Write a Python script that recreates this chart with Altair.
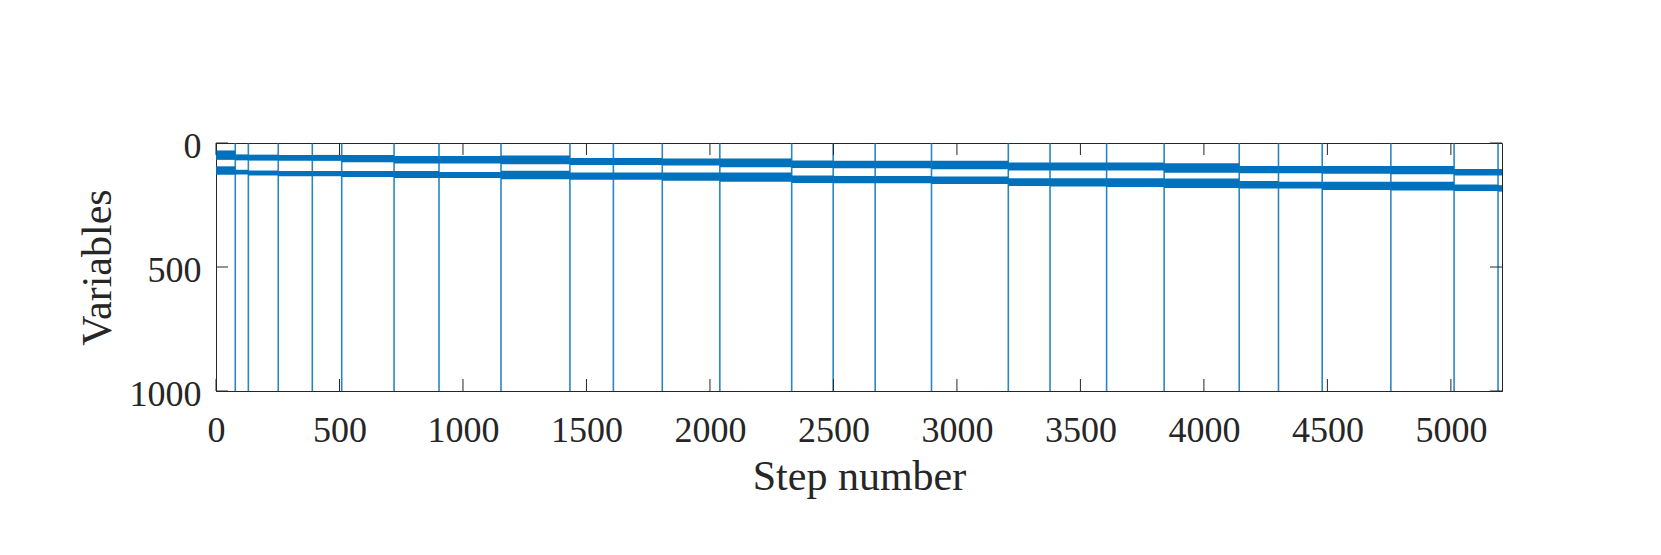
import altair as alt
import pandas as pd

# segment boundaries (step number) and the two bands of nonzero variables in each segment
seg_start = [0, 78, 131, 252, 390, 509, 721, 903, 1154, 1433, 1609, 1807, 2040, 2331,
             2499, 2669, 2897, 3208, 3377, 3606, 3839, 4143, 4302, 4479, 4757, 5013, 5191]
seg_end = [78, 131, 252, 390, 509, 721, 903, 1154, 1433, 1609, 1807, 2040, 2331, 2499,
           2669, 2897, 3208, 3377, 3606, 3839, 4143, 4302, 4479, 4757, 5013, 5191, 5207]
band1_top = [30, 46, 47, 48, 48, 48, 52, 52, 50, 60, 60, 62, 62, 71,
             72, 72, 72, 79, 79, 79, 82, 93, 93, 93, 93, 105, 105]
band1_bot = [68, 70, 71, 72, 72, 78, 83, 83, 86, 89, 89, 91, 98, 101,
             102, 102, 106, 111, 111, 111, 120, 122, 122, 124, 126, 131, 131]
band2_top = [94, 108, 111, 113, 113, 113, 113, 117, 112, 119, 119, 119, 119, 131,
             133, 133, 135, 142, 142, 142, 143, 153, 156, 156, 156, 167, 170]
band2_bot = [128, 127, 131, 134, 134, 137, 141, 141, 146, 148, 148, 152, 156, 161,
             162, 162, 165, 173, 175, 177, 181, 183, 183, 190, 192, 194, 196]

# steps with a full column of nonzeros
line_steps = [78, 131, 252, 390, 509, 721, 903, 1154, 1433, 1609, 1807, 2040, 2331,
              2499, 2669, 2897, 3208, 3377, 3606, 3839, 4143, 4302, 4479, 4757, 5013, 5191]

x_ticks = [0, 500, 1000, 1500, 2000, 2500, 3000, 3500, 4000, 4500, 5000]
y_ticks = [0, 500, 1000]
x_max = 5207
y_max = 1000

W, H = 1286, 248
BLUE = "#0072BD"
INK = "#262626"
FONT = "Liberation Serif"

rows = []
for s, e, a, b, c, d in zip(seg_start, seg_end, band1_top, band1_bot, band2_top, band2_bot):
    rows.append({"start": s, "end": e, "top": a, "bot": b})
    rows.append({"start": s, "end": e, "top": c, "bot": d})
bands = pd.DataFrame(rows)
lines = pd.DataFrame({"step": line_steps, "v0": 0, "v1": y_max})
xt = pd.DataFrame({"t": x_ticks})
yt = pd.DataFrame({"t": y_ticks})

xscale = alt.Scale(domain=[0, x_max], nice=False, zero=False)
yscale = alt.Scale(domain=[0, y_max], nice=False, reverse=True)

xaxis = alt.Axis(values=x_ticks, ticks=False, grid=False, format="d", title="Step number",
                 labelFont=FONT, labelFontSize=36, labelColor=INK, labelPadding=22,
                 labelFlush=False, domainColor=INK, domainWidth=1,
                 titleFont=FONT, titleFontSize=42, titleFontWeight="normal", titleColor=INK,
                 titleX=W / 2, titleY=98, titleBaseline="alphabetic")
yaxis = alt.Axis(values=y_ticks, ticks=False, grid=False, format="d", title="Variables",
                 labelFont=FONT, labelFontSize=36, labelColor=INK, labelPadding=15,
                 labelOffset=3, domainColor=INK, domainWidth=1,
                 titleFont=FONT, titleFontSize=42, titleFontWeight="normal", titleColor=INK,
                 titleAngle=-90, titleX=-106, titleY=H / 2, titleAlign="center",
                 titleBaseline="alphabetic")

rects = alt.Chart(bands).mark_rect(color=BLUE).encode(
    x=alt.X("start:Q", scale=xscale, axis=xaxis),
    x2="end:Q",
    y=alt.Y("top:Q", scale=yscale, axis=yaxis),
    y2="bot:Q",
)

vlines = alt.Chart(lines).mark_rule(color=BLUE, strokeWidth=1.6, opacity=0.85).encode(
    x="step:Q", y="v0:Q", y2="v1:Q"
)

tick_len = 12
xt_top = alt.Chart(xt).mark_rule(color=INK, strokeWidth=1).encode(
    x="t:Q", y=alt.value(0), y2=alt.value(tick_len))
xt_bot = alt.Chart(xt).mark_rule(color=INK, strokeWidth=1).encode(
    x="t:Q", y=alt.value(H - tick_len), y2=alt.value(H))
yt_left = alt.Chart(yt).mark_rule(color=INK, strokeWidth=1).encode(
    y="t:Q", x=alt.value(0), x2=alt.value(tick_len))
yt_right = alt.Chart(yt).mark_rule(color=INK, strokeWidth=1).encode(
    y="t:Q", x=alt.value(W - tick_len), x2=alt.value(W))

chart = alt.layer(rects, vlines, xt_top, xt_bot, yt_left, yt_right).properties(
    width=W, height=H,
    autosize=alt.AutoSizeParams(type="none"),
    padding={"left": 208, "top": 135, "right": 150, "bottom": 150},
    background="white",
).configure_view(stroke=INK, strokeWidth=1)

chart.save("out.html", embed_options={"renderer": "svg", "actions": False})
